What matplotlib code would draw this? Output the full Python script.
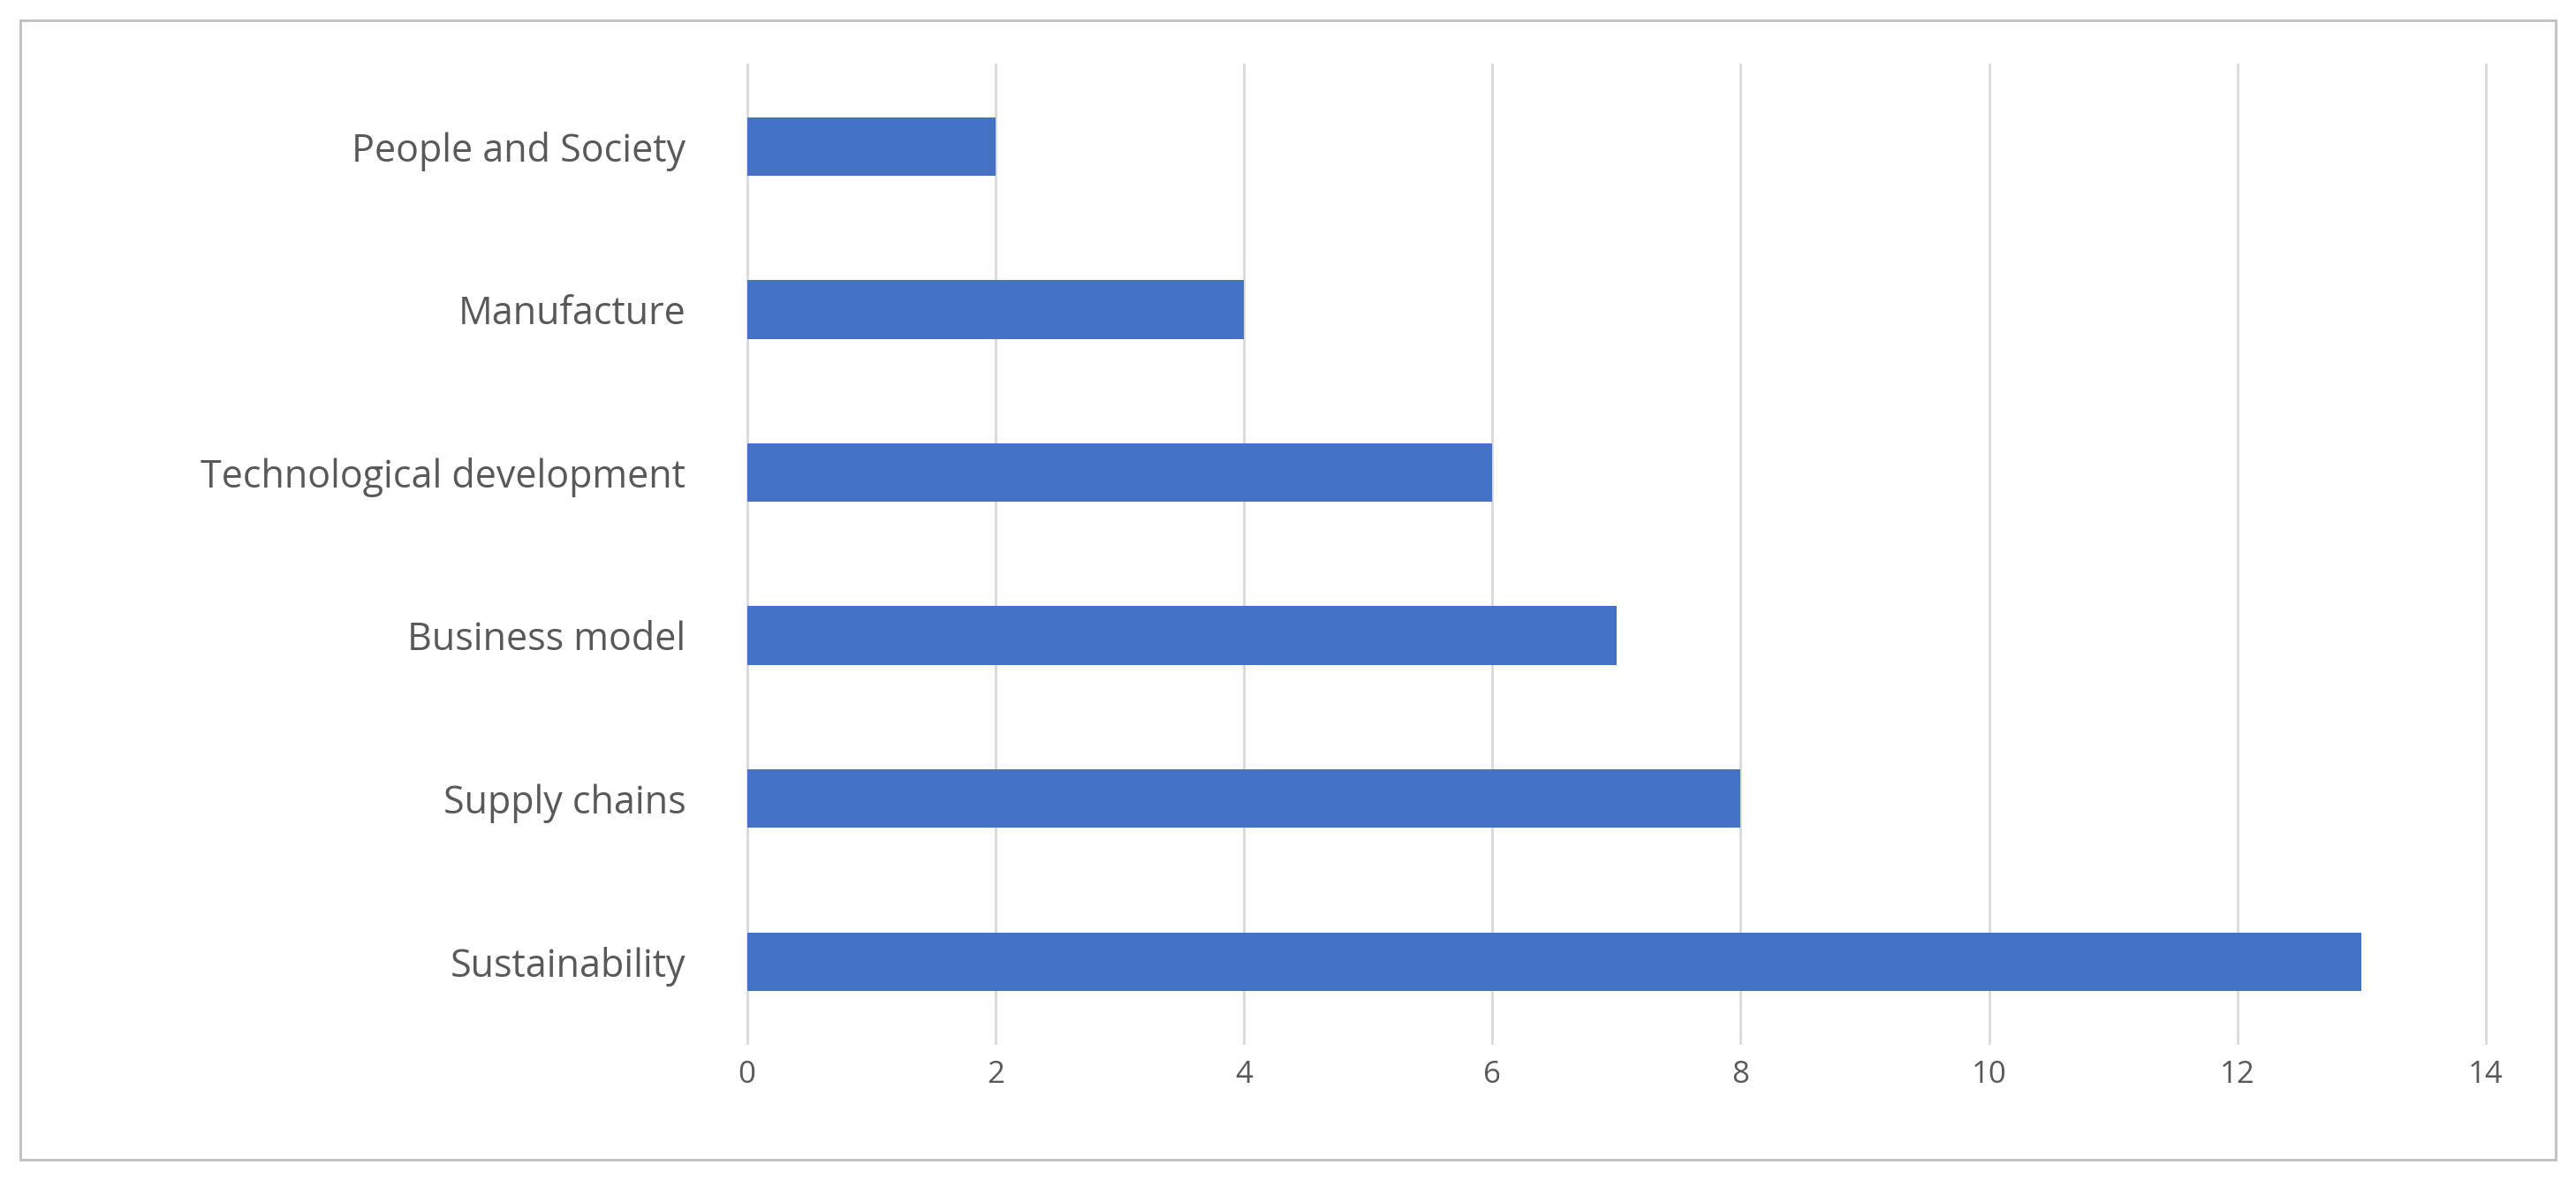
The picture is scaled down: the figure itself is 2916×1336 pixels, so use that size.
import matplotlib.pyplot as plt
from matplotlib.patches import Rectangle

plt.rcParams['font.family'] = ['Open Sans', 'DejaVu Sans']

categories = ['Sustainability', 'Supply chains', 'Business model',
              'Technological development', 'Manufacture', 'People and Society']
counts = [13, 8, 7, 6, 4, 2]
xticks = [0, 2, 4, 6, 8, 10, 12, 14]

fig = plt.figure(figsize=(29.16, 13.36), dpi=100)
ax = fig.add_axes([0.290, 0.116, 0.675, 0.829])

ax.barh(range(len(categories)), counts, height=0.36, color='#4472C4', zorder=3)
ax.set_xlim(0, 14)
ax.set_ylim(-0.5, 5.5)
ax.set_xticks(xticks)
ax.set_yticks(range(len(categories)))
ax.set_yticklabels(categories, fontsize=31, color='#595959')
ax.tick_params(axis='x', labelsize=25, labelcolor='#595959', length=0, pad=14)
ax.tick_params(axis='y', length=0, pad=50)
ax.xaxis.grid(True, color='#d9d9d9', linewidth=2, zorder=0)
for line in ax.get_xgridlines():
    line.set_clip_on(False)
for s in ax.spines.values():
    s.set_visible(False)

# outer chart border
fig.patches.append(Rectangle((0.008, 0.017), 0.984, 0.966, transform=fig.transFigure,
                             fill=False, edgecolor='#bfbfbf', linewidth=2))

fig.savefig('out.png', dpi=100)
